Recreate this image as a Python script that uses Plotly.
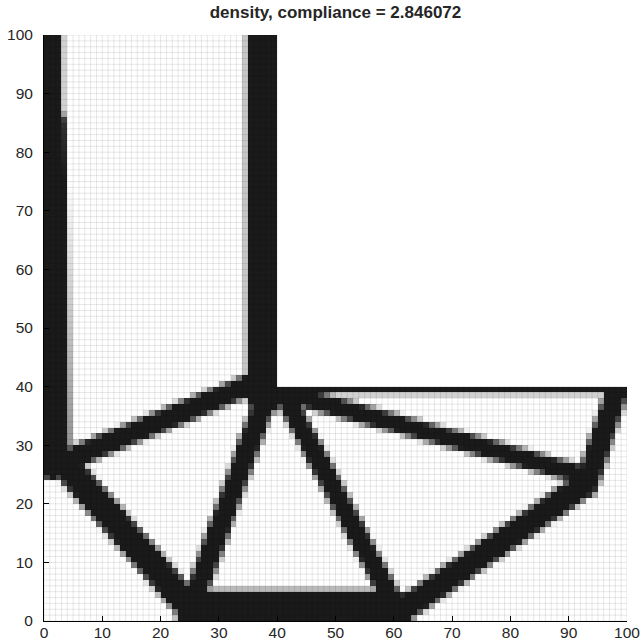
import numpy as np
import plotly.graph_objects as go

# ---------------- data ----------------
NX, NY = 100, 100                 # element grid
VOID_X, VOID_Y = 40, 40           # upper-right cut-out of the L-bracket (no elements)
TITLE = "density, compliance = 2.846072"
tick_vals = [0, 10, 20, 30, 40, 50, 60, 70, 80, 90, 100]

# structural members of the optimized layout (element units): start, end, half-widths
mem_x0 = [1.5, 1.5, 37.75, 39.0, 98.5, 61.0, 42.0, 41.5, 38.0, 1.7, 4.0, 26.0]
mem_y0 = [85.0, 27.0, 38.0, 40.0, 40.0, 1.5, 38.7, 38.0, 38.0, 28.9, 27.5, 1.8]
mem_x1 = [1.5, 1.5, 37.75, 100.5, 93.0, 93.0, 93.0, 60.0, 25.5, 26.0, 37.0, 60.0]
mem_y1 = [101.0, 85.0, 101.0, 40.0, 23.0, 23.5, 24.8, 3.0, 3.0, 1.2, 41.0, 1.8]
mem_w0 = [1.7, 3.0, 3.0, 1.2, 2.0, 2.2, 1.6, 1.8, 1.9, 2.5, 1.9, 3.5]
mem_w1 = [1.7, 2.4, 3.0, 1.2, 2.0, 2.2, 1.6, 1.8, 1.9, 2.5, 1.9, 3.5]

# ---------------- density field built from the members ----------------
xc = np.arange(NX) + 0.5
yc = np.arange(NY) + 0.5
XX, YY = np.meshgrid(xc, yc)
rho = np.zeros((NY, NX))
for x0, y0, x1, y1, w0, w1 in zip(mem_x0, mem_y0, mem_x1, mem_y1, mem_w0, mem_w1):
    dx, dy = x1 - x0, y1 - y0
    L2 = dx * dx + dy * dy
    t = np.clip(((XX - x0) * dx + (YY - y0) * dy) / L2, 0, 1)
    d = np.hypot(XX - (x0 + t * dx), YY - (y0 + t * dy))
    hw = w0 + t * (w1 - w0)
    rho = np.maximum(rho, np.clip(hw - d + 0.5, 0, 1))

z = rho.astype(object)
z[(XX > VOID_X) & (YY > VOID_Y)] = None

# element edge lines
gx, gy = [], []
for k in range(NX + 1):
    gx += [k, k, None]
    gy += [0, NY if k <= VOID_X else VOID_Y, None]
for k in range(NY + 1):
    gx += [0, NX if k <= VOID_Y else VOID_X, None]
    gy += [k, k, None]

fig = go.Figure()
fig.add_trace(go.Heatmap(
    x=xc, y=yc, z=z.tolist(), zmin=0, zmax=1,
    colorscale=[[0, "#ffffff"], [1, "#1a1a1a"]],
    showscale=False, hoverinfo="skip",
))
fig.add_trace(go.Scatter(
    x=gx, y=gy, mode="lines",
    line=dict(color="rgba(0,0,0,0.12)", width=0.8),
    hoverinfo="skip", showlegend=False,
))

FONT = "Liberation Sans, Arial, sans-serif"
axis_common = dict(
    range=[0, 100], tickvals=tick_vals, ticks="inside", ticklen=5,
    tickcolor="black", showline=True, linecolor="black", linewidth=1,
    showgrid=False, zeroline=False, mirror=False, automargin=False,
    tickfont=dict(family=FONT, size=15.5, color="#262626"),
)
fig.update_layout(
    width=643, height=643,
    margin=dict(l=44, r=16, t=35, b=22),
    paper_bgcolor="white", plot_bgcolor="white",
    xaxis=dict(axis_common, ticklabelstandoff=-3),
    yaxis=dict(axis_common, ticklabelstandoff=7),
    showlegend=False,
    hovermode=False,
    title=dict(
        text=TITLE, xref="paper", x=0.5, xanchor="center",
        yref="container", y=1 - 12 / 643, yanchor="middle",
        font=dict(family=FONT, size=17, color="#262626", weight="bold"),
    ),
)
fig.write_html(
    "out.html",
    config={"displayModeBar": False, "staticPlot": True},
    post_script="document.body.style.margin='0';document.body.style.overflow='hidden';",
)
